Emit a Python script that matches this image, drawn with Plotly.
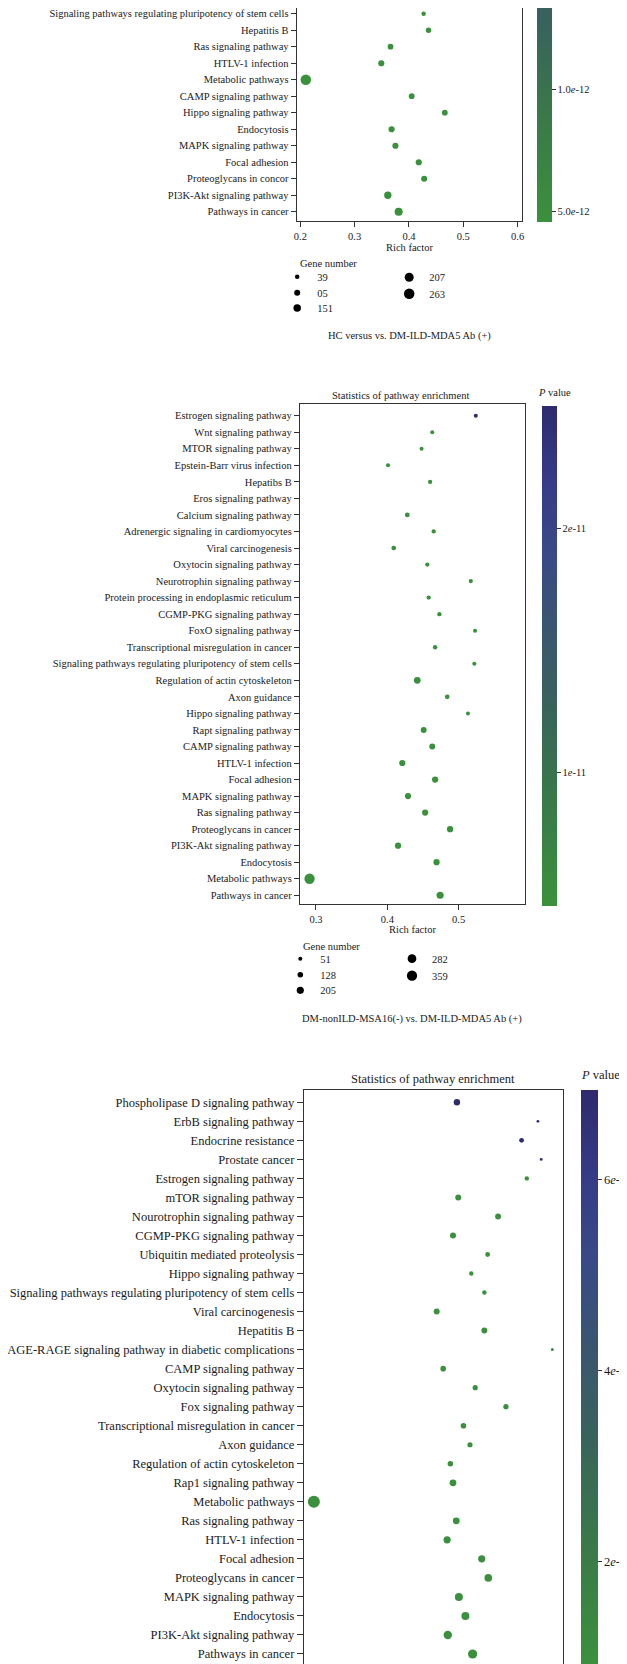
import plotly.graph_objects as go

# ----------------------------- data -----------------------------
# Panel 1 (top, cropped): HC versus vs. DM-ILD-MDA5 Ab (+)
p1_pathways = ["Signaling pathways regulating pluripotency of stem cells", "Hepatitis B",
               "Ras signaling pathway", "HTLV-1 infection", "Metabolic pathways",
               "CAMP signaling pathway", "Hippo signaling pathway", "Endocytosis",
               "MAPK signaling pathway", "Focal adhesion", "Proteoglycans in concor",
               "PI3K-Akt signaling pathway", "Pathways in cancer"]
p1_rich = [0.427, 0.436, 0.366, 0.349, 0.210, 0.405, 0.466, 0.368, 0.375, 0.418, 0.428, 0.361, 0.381]
p1_genes = [39, 72, 86, 100, 263, 86, 86, 100, 100, 100, 98, 144, 173]
p1_pvalue = [4.7e-12, 4.7e-12, 4.7e-12, 4.7e-12, 4.6e-12, 4.7e-12, 4.7e-12, 4.7e-12,
             4.7e-12, 4.7e-12, 4.7e-12, 4.6e-12, 4.6e-12]
p1_legend_genes = [39, 95, 151, 207, 263]
p1_legend_labels = ["39", "05", "151", "207", "263"]
p1_xticks = [0.2, 0.3, 0.4, 0.5, 0.6]
p1_cbar_vals = [1.0e-11, 5.0e-12]
p1_cbar_text = ["1.0<i>e</i>-12", "5.0<i>e</i>-12"]

# Panel 2: DM-nonILD-MSA16(-) vs. DM-ILD-MDA5 Ab (+)
p2_pathways = ["Estrogen signaling pathway", "Wnt signaling pathway", "MTOR signaling pathway",
               "Epstein-Barr virus infection", "Hepatibs B", "Eros signaling pathway",
               "Calcium signaling pathway", "Adrenergic signaling in cardiomyocytes",
               "Viral carcinogenesis", "Oxytocin signaling pathway", "Neurotrophin signaling pathway",
               "Protein processing in endoplasmic reticulum", "CGMP-PKG signaling pathway",
               "FoxO signaling pathway", "Transcriptional misregulation in cancer",
               "Signaling pathways regulating pluripotency of stem cells",
               "Regulation of actin cytoskeleton", "Axon guidance", "Hippo signaling pathway",
               "Rapt signaling pathway", "CAMP signaling pathway", "HTLV-1 infection",
               "Focal adhesion", "MAPK signaling pathway", "Ras signaling pathway",
               "Proteoglycans in cancer", "PI3K-Akt signaling pathway", "Endocytosis",
               "Metabolic pathways", "Pathways in cancer"]
p2_rich = [0.524, 0.463, 0.448, 0.401, 0.460, None, 0.428, 0.465, 0.409, 0.456, 0.517,
           0.458, 0.473, 0.523, 0.467, 0.522, 0.442, 0.484, 0.513, 0.451, 0.463, 0.421,
           0.467, 0.429, 0.453, 0.488, 0.415, 0.469, 0.291, 0.474]
p2_genes = [52, 54, 53, 55, 68, None, 88, 66, 86, 67, 64, 66, 68, 56, 70, 58, 184, 84, 51,
            146, 148, 160, 162, 158, 160, 164, 160, 162, 359, 203]
p2_pvalue = [2.45e-11, 4.7e-12, 4.7e-12, 4.7e-12, 4.7e-12, None, 4.7e-12, 4.7e-12, 4.7e-12,
             4.7e-12, 4.7e-12, 4.7e-12, 4.7e-12, 4.7e-12, 4.7e-12, 4.7e-12, 4.6e-12, 4.7e-12,
             4.7e-12, 4.6e-12, 4.6e-12, 4.6e-12, 4.6e-12, 4.6e-12, 4.6e-12, 4.6e-12, 4.6e-12,
             4.6e-12, 4.6e-12, 4.6e-12]
p2_legend_genes = [51, 128, 205, 282, 359]
p2_legend_labels = ["51", "128", "205", "282", "359"]
p2_xticks = [0.3, 0.4, 0.5]
p2_cbar_vals = [2e-11, 1e-11]
p2_cbar_text = ["2<i>e</i>-11", "1<i>e</i>-11"]

# Panel 3 (bottom, cropped)
p3_pathways = ["Phospholipase D signaling pathway", "ErbB signaling pathway", "Endocrine resistance",
               "Prostate cancer", "Estrogen signaling pathway", "mTOR signaling pathway",
               "Nourotrophin signaling pathway", "CGMP-PKG signaling pathway",
               "Ubiquitin mediated proteolysis", "Hippo signaling pathway",
               "Signaling pathways regulating pluripotency of stem cells", "Viral carcinogenesis",
               "Hepatitis B", "AGE-RAGE signaling pathway in diabetic complications",
               "CAMP signaling pathway", "Oxytocin signaling pathway", "Fox signaling pathway",
               "Transcriptional misregulation in cancer", "Axon guidance",
               "Regulation of actin cytoskeleton", "Rap1 signaling pathway", "Metabolic pathways",
               "Ras signaling pathway", "HTLV-1 infection", "Focal adhesion",
               "Proteoglycans in cancer", "MAPK signaling pathway", "Endocytosis",
               "PI3K-Akt signaling pathway", "Pathways in cancer"]
p3_rich = [0.479, 0.603, 0.578, 0.608, 0.586, 0.481, 0.542, 0.473, 0.526, 0.501, 0.521, 0.448,
           0.521, 0.625, 0.458, 0.507, 0.554, 0.489, 0.499, 0.469, 0.473, 0.260, 0.478, 0.464,
           0.517, 0.527, 0.482, 0.492, 0.465, 0.503]
p3_genes = [169, 20, 103, 22, 86, 152, 150, 154, 103, 86, 88, 152, 150, 28, 136, 119, 119, 136,
            119, 136, 185, 400, 185, 202, 202, 218, 235, 235, 251, 284]
p3_pvalue = [6.9e-12, 6.85e-12, 6.9e-12, 6.85e-12] + [0.95e-12] * 26
p3_xticks = [0.3, 0.4, 0.5, 0.6]
p3_cbar_vals = [6e-12, 4e-12, 2e-12]
p3_cbar_text = ["6<i>e</i>-12", "4<i>e</i>-12", "2<i>e</i>-12"]

# ----------------------------- style / layout -----------------------------
W, H = 627, 1664
FONT = "Liberation Serif, Times New Roman, serif"
TXT = "#1a1a1a"
LINE = "#333333"
CS = [[0.0, "#3a913c"], [0.2, "#3a7a48"], [0.4, "#38635c"], [0.55, "#3a566f"],
      [0.7, "#394a86"], [0.85, "#363b87"], [1.0, "#2e2a6d"]]


def fx(px):
    return px / W


def fy(py):
    return 1 - py / H


def size_fn(g, gmin, gmax, dmin, dmax):
    return dmin + (g - gmin) / (gmax - gmin) * (dmax - dmin)


fig = go.Figure()

panels = [
    dict(names=p1_pathways, rich=p1_rich, genes=p1_genes, pv=p1_pvalue,
         grange=(39, 263), drange=(4.5, 10.5), frame=(288.8, 0.0, 513.6, 213.3),
         xrange=(0.1934, 0.6074), ypad=(0.58, 0.345), xticks=p1_xticks, font=10.5,
         cbfont=10.5, ticklen=5, mirror_x=False, xlabels=True, crange=(4.58e-12, 2.5e-11),
         cbar=dict(x=528.8, bottom=214.0, thick=15.2, length=500, tv=p1_cbar_vals, tt=p1_cbar_text)),
    dict(names=p2_pathways, rich=p2_rich, genes=p2_genes, pv=p2_pvalue,
         grange=(51, 359), drange=(4.0, 10.3), frame=(292.0, 396.0, 517.0, 896.0),
         xrange=(0.2776, 0.593), ypad=(0.526, 0.707), xticks=p2_xticks, font=10.5,
         cbfont=10.5, ticklen=5, mirror_x=True, xlabels=True, crange=(4.56e-12, 2.5e-11),
         cbar=dict(x=534.2, bottom=897.7, thick=14.8, length=500.4, tv=p2_cbar_vals, tt=p2_cbar_text)),
    dict(names=p3_pathways, rich=p3_rich, genes=p3_genes, pv=p3_pvalue,
         grange=(20, 400), drange=(2.8, 12.0), frame=(296.0, 1082.0, 555.2, 1656.7),
         xrange=(0.2449, 0.6417), ypad=(0.563, 0.647), xticks=p3_xticks, font=12.5,
         cbfont=12.5, ticklen=6, mirror_x=True, xlabels=False, crange=(0.915e-12, 6.94e-12),
         cbar=dict(x=573.2, bottom=1657.7, thick=16.8, length=575.7, tv=p3_cbar_vals, tt=p3_cbar_text)),
]

layout_axes = {}
for i, P in enumerate(panels, start=1):
    sfx = "" if i == 1 else str(i)
    keep = [k for k, g in enumerate(P["genes"]) if g is not None]
    gmin, gmax = P["grange"]
    dmin, dmax = P["drange"]
    cb = P["cbar"]
    fig.add_trace(go.Scatter(
        x=[P["rich"][k] for k in keep],
        y=[P["names"][k] for k in keep],
        mode="markers",
        xaxis="x" + sfx, yaxis="y" + sfx,
        showlegend=False, hoverinfo="skip",
        marker=dict(
            size=[size_fn(P["genes"][k], gmin, gmax, dmin, dmax) for k in keep],
            sizemode="diameter",
            color=[P["pv"][k] for k in keep],
            colorscale=CS, cmin=P["crange"][0], cmax=P["crange"][1],
            line=dict(width=0), opacity=1,
            showscale=True,
            colorbar=dict(
                x=fx(cb["x"]), xanchor="left", xpad=0, ypad=0,
                y=fy(cb["bottom"]), yanchor="bottom",
                lenmode="pixels", len=cb["length"],
                thicknessmode="pixels", thickness=cb["thick"],
                outlinewidth=0, ticks="outside", ticklen=4, tickwidth=1, tickcolor=LINE,
                tickmode="array", tickvals=cb["tv"], ticktext=cb["tt"],
                tickfont=dict(family=FONT, size=P["cbfont"], color=TXT),
            ),
        ),
    ))
    x0, y0, x1, y1 = P["frame"]
    n = len(P["names"])
    layout_axes["xaxis" + sfx] = dict(
        domain=[fx(x0), fx(x1)], range=list(P["xrange"]), anchor="y" + sfx,
        tickmode="array", tickvals=P["xticks"], ticks="outside", ticklen=P["ticklen"],
        tickwidth=1, tickcolor=LINE, showline=True, linecolor=LINE, linewidth=1.3,
        mirror=P["mirror_x"], showgrid=False, zeroline=False, automargin=False,
        showticklabels=P["xlabels"],
        tickfont=dict(family=FONT, size=P["font"], color=TXT), fixedrange=True)
    layout_axes["yaxis" + sfx] = dict(
        domain=[fy(y1), fy(y0)], anchor="x" + sfx, type="category",
        categoryorder="array", categoryarray=list(reversed(P["names"])),
        range=[-P["ypad"][0], n - 1 + P["ypad"][1]],
        ticks="outside", ticklen=P["ticklen"], tickwidth=1, tickcolor=LINE,
        showline=True, linecolor=LINE, linewidth=1.3, mirror=True,
        showgrid=False, zeroline=False, automargin=False,
        tickfont=dict(family=FONT, size=P["font"], color=TXT), fixedrange=True)

# gene-number legends (one small legend per entry, placed like the reference)
legend_specs = [
    (p1_legend_genes, p1_legend_labels, panels[0],
     [(305.2, 268.7), (305.2, 284.7), (305.2, 300.0), (417.2, 269.3), (417.2, 285.7)]),
    (p2_legend_genes, p2_legend_labels, panels[1],
     [(308.3, 950.7), (308.3, 966.7), (308.3, 982.3), (420.0, 950.7), (420.0, 967.7)]),
]
legend_layout = {}
lid = 0
for genes, labels, P, spots in legend_specs:
    gmin, gmax = P["grange"]
    dmin, dmax = P["drange"]
    for g, lab, (tx, ty) in zip(genes, labels, spots):
        lid += 1
        lname = "legend" if lid == 1 else f"legend{lid}"
        fig.add_trace(go.Scatter(
            x=[None], y=[None], mode="markers", name=lab, legend=lname, showlegend=True,
            marker=dict(size=size_fn(g, gmin, gmax, dmin, dmax), color="black", line=dict(width=0)),
            hoverinfo="skip"))
        legend_layout[lname] = dict(
            x=fx(tx - 36), xanchor="left", y=fy(ty), yanchor="middle",
            bgcolor="rgba(0,0,0,0)", borderwidth=0, itemclick=False, itemdoubleclick=False,
            font=dict(family=FONT, size=10.5, color=TXT))

# texts
def ann(text, x, y, size, xanchor="center"):
    return dict(text=text, x=fx(x), y=fy(y), xref="paper", yref="paper", showarrow=False,
                xanchor=xanchor, yanchor="middle", font=dict(family=FONT, size=size, color=TXT))

annotations = [
    ann("Rich factor", 401.2, 239.3, 10.5),
    ann("Gene number", 290.0, 255.7, 10.5, "left"),
    ann("HC versus vs. DM-ILD-MDA5 Ab (+)", 401.2, 328.3, 10.5),
    ann("Statistics of pathway enrichment", 392.0, 387.7, 10.5),
    ann("<i>P</i> value", 546.0, 384.0, 10.5),
    ann("Rich factor", 404.0, 921.7, 10.5),
    ann("Gene number", 293.3, 938.5, 10.5, "left"),
    ann("DM-nonILD-MSA16(-) vs. DM-ILD-MDA5 Ab (+)", 404.0, 1011.0, 10.5),
    ann("Statistics of pathway enrichment", 425.2, 1071.0, 12.5),
    ann("<i>P</i> value", 592.0, 1067.0, 12.5),
]

fig.update_layout(
    width=W, height=H,
    margin=dict(l=0, r=0, t=0, b=0, pad=0, autoexpand=False),
    paper_bgcolor="white", plot_bgcolor="white",
    font=dict(family=FONT, size=10.5, color=TXT),
    annotations=annotations,
    **layout_axes,
    **legend_layout,
)

fig.write_html("out.html")
